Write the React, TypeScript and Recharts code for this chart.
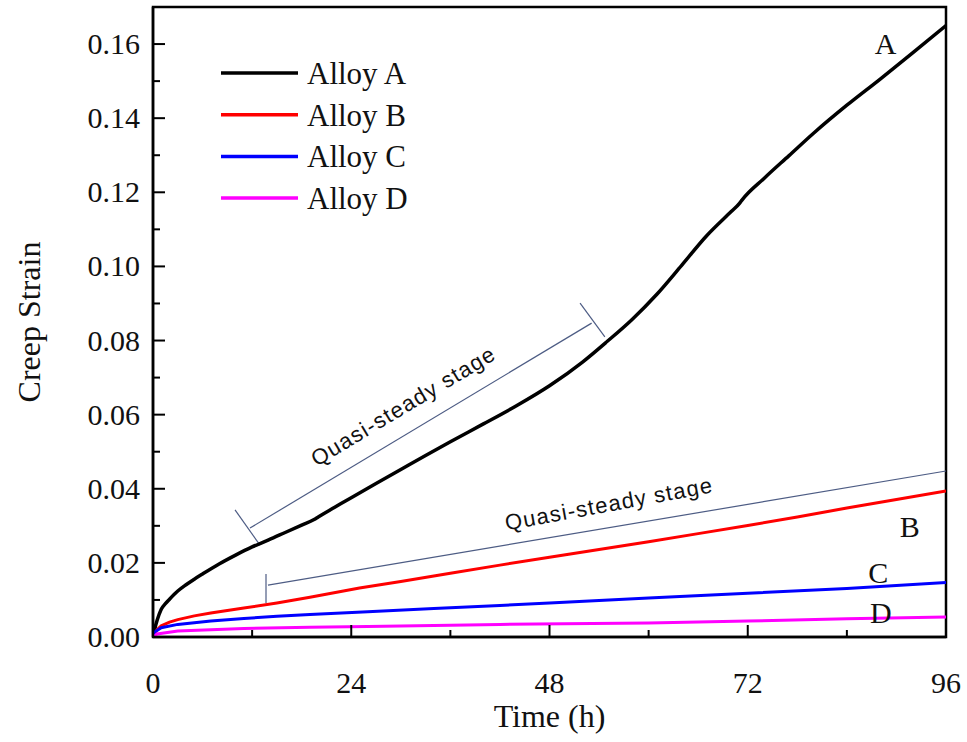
import React from 'react';
import {
  LineChart,
  Line,
  XAxis,
  YAxis,
  Legend,
  ReferenceArea,
  ReferenceLine,
  ReferenceDot
} from 'recharts';

// creep curves (time in h, strain)
const timeA = [0, 0.25, 0.5, 1, 1.5, 2, 3, 4, 5, 6, 8, 10, 12, 14, 16, 18, 19.5, 20, 22, 24, 27, 30, 33, 36, 40, 44, 48, 52, 55, 58, 61, 64, 67, 70, 71, 71.3, 74, 77, 80, 84, 88, 92, 96];
const strainA = [0, 0.0025, 0.0045, 0.0075, 0.009, 0.0102, 0.0124, 0.0141, 0.0156, 0.017, 0.0197, 0.0221, 0.0243, 0.0262, 0.0282, 0.0302, 0.0317, 0.0324, 0.035, 0.0376, 0.0414, 0.0452, 0.049, 0.0527, 0.0575, 0.0624, 0.0678, 0.0742, 0.0798, 0.0857, 0.0925, 0.1003, 0.1082, 0.1148, 0.117, 0.1179, 0.1238, 0.1299, 0.136, 0.1435, 0.1505, 0.1577, 0.165];

const timeB = [0, 0.5, 1, 2, 3, 5, 7, 11, 15, 19, 25, 30, 36, 42, 48, 54, 60, 66, 72, 78, 84, 90, 96];
const strainB = [0, 0.002, 0.003, 0.004, 0.0047, 0.0057, 0.0065, 0.0078, 0.0092, 0.0107, 0.0132, 0.015, 0.0172, 0.0194, 0.0215, 0.0236, 0.0257, 0.0279, 0.0301, 0.0324, 0.0348, 0.0371, 0.0394];

const timeC = [0, 0.3, 1, 3, 7, 11, 15, 19, 26, 34, 42, 48, 60, 72, 84, 96];
const strainC = [0, 0.0015, 0.0025, 0.0034, 0.0043, 0.005, 0.0056, 0.0061, 0.0068, 0.0077, 0.0085, 0.0092, 0.0105, 0.0118, 0.0131, 0.0147];

const timeD = [0, 0.5, 3, 11, 19, 26, 42, 60, 72, 84, 96];
const strainD = [0, 0.0008, 0.0016, 0.0023, 0.0026, 0.0028, 0.0034, 0.0038, 0.0043, 0.0049, 0.0054];

const xTicks = [0, 12, 24, 36, 48, 60, 72, 84, 96];
const xLabels = ['0', '', '24', '', '48', '', '72', '', '96'];
const yTicks = [0, 0.01, 0.02, 0.03, 0.04, 0.05, 0.06, 0.07, 0.08, 0.09, 0.1, 0.11, 0.12, 0.13, 0.14, 0.15, 0.16];

// quasi-steady stage brackets
const bracketA = [{ x: 11.74, y: 0.0294 }, { x: 53.1, y: 0.0847 }];
const bracketAStart = [{ x: 9.93, y: 0.0343 }, { x: 12.95, y: 0.0248 }];
const bracketAEnd = [{ x: 51.7, y: 0.0901 }, { x: 54.7, y: 0.081 }];
const bracketB = [{ x: 13.92, y: 0.014 }, { x: 96, y: 0.0448 }];
const bracketBStart = [{ x: 13.68, y: 0.017 }, { x: 13.68, y: 0.0092 }];

const curveTags = [
  { name: 'A', x: 88.7, y: 0.1602 },
  { name: 'B', x: 91.6, y: 0.0297 },
  { name: 'C', x: 87.8, y: 0.0173 },
  { name: 'D', x: 88.1, y: 0.0065 }
];

const zip = (t: number[], s: number[]) => t.map((time, i) => ({ time, strain: s[i] }));

const series = [
  { name: 'Alloy A', color: '#000000', width: 3.5, curve: 'monotone', data: zip(timeA, strainA) },
  { name: 'Alloy B', color: '#ff0000', width: 3, curve: 'linear', data: zip(timeB, strainB) },
  { name: 'Alloy C', color: '#0000ff', width: 3, curve: 'linear', data: zip(timeC, strainC) },
  { name: 'Alloy D', color: '#ff00ff', width: 3, curve: 'linear', data: zip(timeD, strainD) }
];

const SERIF = '"Liberation Serif", "Times New Roman", serif';
const SANS = '"Liberation Sans", Arial, sans-serif';
const BRACKET = '#4d5c84';

const YTick = (props: any) => {
  const { x, y, payload } = props;
  const v = payload.value as number;
  const major = Math.round(v * 100) % 2 === 0;
  return (
    <g>
      <line x1={x} x2={x + (major ? 12 : 7)} y1={y} y2={y} stroke="#000" strokeWidth={2} />
      {major && (
        <text x={x - 13} y={y + 10} textAnchor="end" fontFamily={SERIF} fontSize={30} fill="#111">
          {v.toFixed(2)}
        </text>
      )}
    </g>
  );
};

const XTick = (props: any) => {
  const { x, y, index } = props;
  const label = xLabels[index];
  return (
    <g>
      <line x1={x} x2={x} y1={y} y2={y - (label ? 12 : 7)} stroke="#000" strokeWidth={2} />
      {label && (
        <text x={x} y={y + 56} textAnchor="middle" fontFamily={SERIF} fontSize={30} fill="#111">
          {label}
        </text>
      )}
    </g>
  );
};

const LegendBox = (props: any) => {
  const items = props.payload || [];
  return (
    <svg width={220} height={170}>
      {items.map((it: any, i: number) => {
        const cy = 21 + i * 41.7;
        return (
          <g key={it.value}>
            <line x1={6} x2={83} y1={cy} y2={cy} stroke={it.color} strokeWidth={3.5} />
            <text x={92} y={cy + 11} fontFamily={SERIF} fontSize={31} fill="#111">
              {it.value}
            </text>
          </g>
        );
      })}
    </svg>
  );
};

const stageText = (angle: number) => (p: any) => (
  <text
    x={p.cx}
    y={p.cy}
    transform={`rotate(${angle}, ${p.cx}, ${p.cy})`}
    textAnchor="middle"
    dominantBaseline="central"
    fontFamily={SANS}
    fontSize={22}
    letterSpacing={1.2}
    fill="#111"
  >
    Quasi-steady stage
  </text>
);

const tagText = (name: string) => (p: any) => (
  <text x={p.cx} y={p.cy} textAnchor="middle" dominantBaseline="central" fontFamily={SERIF} fontSize={30} fill="#111">
    {name}
  </text>
);

export default function App() {
  return (
    <div style={{ width: 967, height: 742, background: '#fff' }}>
      <style>{'body{margin:0}'}</style>
      <LineChart width={967} height={742} margin={{ top: 7, right: 21, left: 0, bottom: 0 }}>
        <XAxis
          type="number"
          dataKey="time"
          domain={[0, 96]}
          ticks={xTicks}
          interval={0}
          height={105}
          tickSize={0}
          tickMargin={0}
          tickLine={false}
          tick={<XTick />}
          axisLine={{ stroke: '#000', strokeWidth: 2.5 }}
          allowDataOverflow
          label={(p: any) => {
            const vb = p.viewBox || {};
            const cx = (vb.x ?? 153) + (vb.width ?? 793) / 2;
            const cy = (vb.y ?? 637) + 90;
            return (
              <text x={cx} y={cy} textAnchor="middle" fontFamily={SERIF} fontSize={32} fill="#111">
                Time (h)
              </text>
            );
          }}
        />
        <YAxis
          type="number"
          domain={[0, 0.17]}
          ticks={yTicks}
          interval={0}
          width={153}
          tickSize={0}
          tickMargin={0}
          tickLine={false}
          tick={<YTick />}
          axisLine={{ stroke: '#000', strokeWidth: 2.5 }}
          allowDataOverflow
          label={(p: any) => {
            const vb = p.viewBox || {};
            const cx = 40;
            const cy = (vb.y ?? 7) + (vb.height ?? 630) / 2;
            return (
              <text x={cx} y={cy} transform={`rotate(-90, ${cx}, ${cy})`} textAnchor="middle" fontFamily={SERIF} fontSize={32} fill="#111">
                Creep Strain
              </text>
            );
          }}
        />
        <ReferenceArea x1={0} x2={96} y1={0} y2={0.17} fill="none" stroke="#000" strokeWidth={2.5} />

        <ReferenceLine segment={bracketA} stroke={BRACKET} strokeWidth={1.2} />
        <ReferenceLine segment={bracketAStart} stroke={BRACKET} strokeWidth={1.2} />
        <ReferenceLine segment={bracketAEnd} stroke={BRACKET} strokeWidth={1.2} />
        <ReferenceLine segment={bracketB} stroke={BRACKET} strokeWidth={1.2} />
        <ReferenceLine segment={bracketBStart} stroke={BRACKET} strokeWidth={1.2} />

        {series.map(s => (
          <Line
            key={s.name}
            data={s.data}
            dataKey="strain"
            name={s.name}
            type={s.curve as any}
            stroke={s.color}
            strokeWidth={s.width}
            dot={false}
            activeDot={false}
            isAnimationActive={false}
          />
        ))}

        <ReferenceDot x={30.3} y={0.0623} r={0} shape={stageText(-31)} />
        <ReferenceDot x={55.2} y={0.0359} r={0} shape={stageText(-10.5)} />
        {curveTags.map(t => (
          <ReferenceDot key={t.name} x={t.x} y={t.y} r={0} shape={tagText(t.name)} />
        ))}

        <Legend
          layout="vertical"
          align="center"
          verticalAlign="middle"
          wrapperStyle={{ top: 52, left: 215, width: 220 }}
          content={<LegendBox />}
        />
      </LineChart>
    </div>
  );
}
